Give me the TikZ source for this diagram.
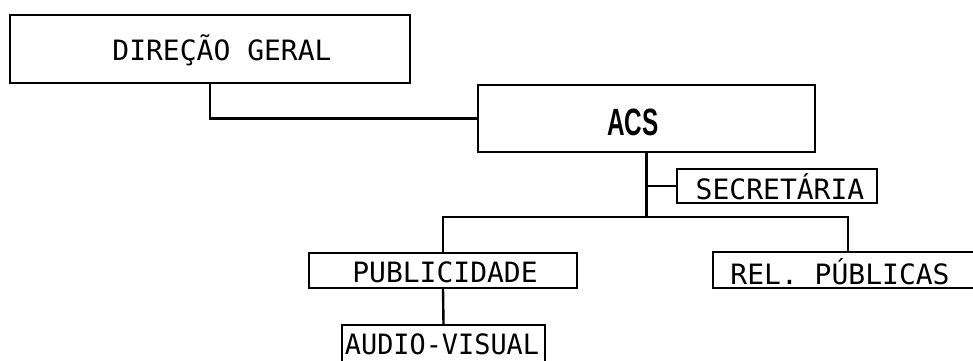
\documentclass[tikz,border=0pt]{standalone}
\usepackage{fontspec}
\setmainfont{DejaVu Sans Mono}
\newfontfamily\acsfont{Liberation Sans}
\newcommand{\mytxt}[2][1.0]{\scalebox{#1}[1]{\fontsize{28}{28}\selectfont #2}}
\begin{document}
\begin{tikzpicture}[x=1pt,y=-1pt,
  box/.style={draw, line width=2.4pt, inner sep=0pt},
  lbl/.style={inner sep=0pt, anchor=center},
  conn/.style={line width=2.4pt}]
\useasboundingbox (0,0) rectangle (973,360);
\clip (0,0) rectangle (973,360);
% boxes
\node[box, minimum width=400pt, minimum height=68pt] (dg) at (210,49) {};
\node[lbl] (dgt) at (222,50) {\mytxt{DIREÇÃO GERAL}};
\node[box, minimum width=337pt, minimum height=67pt] (acs) at (646.5,118.5) {};
\node[lbl] (acst) at (633,122) {\scalebox{0.64}[1]{\acsfont\bfseries\fontsize{38}{38}\selectfont ACS}};
\node[box, minimum width=200pt, minimum height=34pt] (sec) at (777,186) {};
\node[lbl] (sect) at (780,187) {\mytxt{SECRETÁRIA}};
\node[box, minimum width=268pt, minimum height=35pt] (pub) at (443,270.5) {};
\node[lbl] (pubt) at (445,272) {\mytxt{PUBLICIDADE}};
\node[box, minimum width=203pt, minimum height=37pt] (av) at (443.5,343.5) {};
\node[lbl] (avt) at (442,344.5) {\mytxt[0.96]{AUDIO-VISUAL}};
\node[box, minimum width=272pt, minimum height=36pt] (rel) at (849,270) {};
\node[lbl] (relt) at (840,272) {\mytxt{REL. PÚBLICAS}};
% connectors
\coordinate (bus) at (646.5,217);
\coordinate (reltop) at (848,252);
\draw[conn] (dg.south) |- (acs.west);
\draw[conn] (acs.south) -- (bus);
\draw[conn] (sec.west) -- (sec.west -| acs.south);
\draw[conn] (pub.north) |- (bus) -| (reltop);
\draw[conn] (pub.south) -- (av.north);
\end{tikzpicture}
\end{document}
